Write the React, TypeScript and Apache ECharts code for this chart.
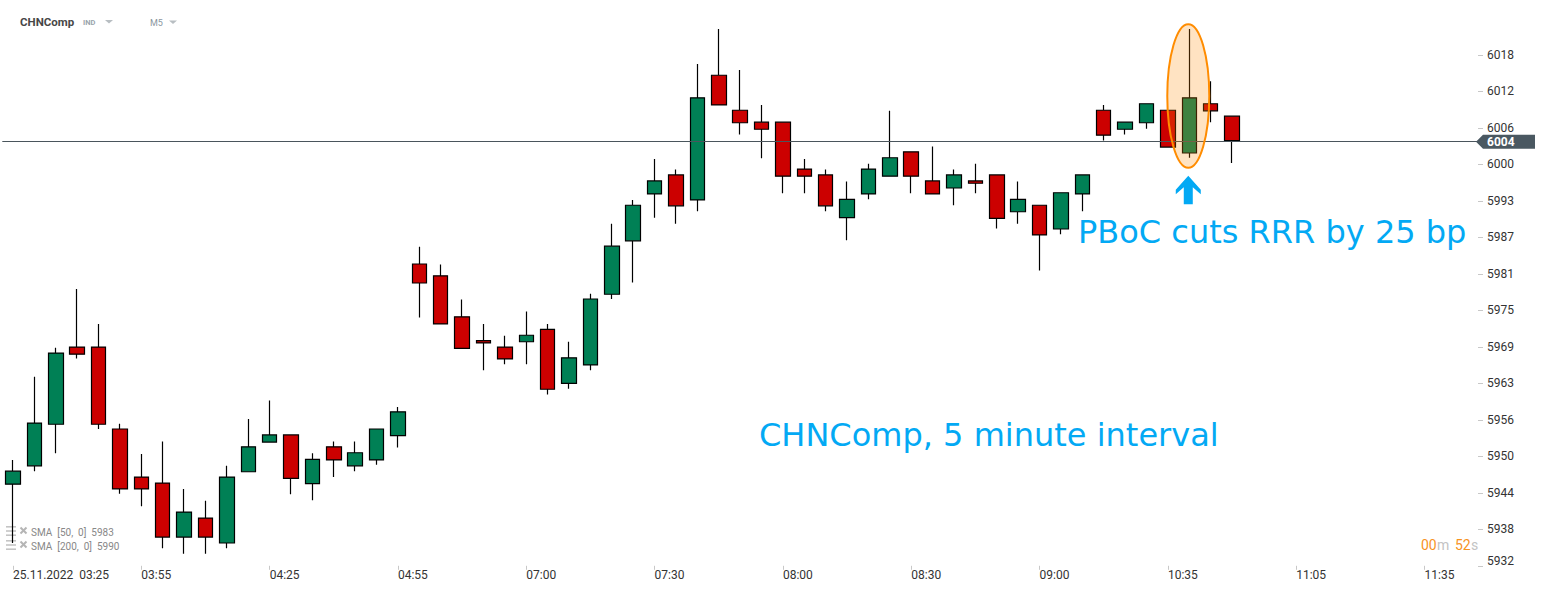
import React, { useEffect, useRef } from 'react';
import * as echarts from 'echarts';

// ---- data ----
const xTickLabels = ['25.11.2022  03:25', '03:55', '04:25', '04:55', '07:00', '07:30', '08:00', '08:30', '09:00', '10:35', '11:05', '11:35'];
const categoryCount = 69;
const yTickLabels = ['5932', '5938', '5944', '5950', '5956', '5963', '5969', '5975', '5981', '5987', '5993', '6000', '6006', '6012', '6018'];

const opens = [5945.6, 5948.7, 5955.7, 5968.7, 5968.7, 5954.9, 5946.8, 5945.8, 5936.7, 5939.9, 5935.7, 5947.7, 5952.7, 5953.9, 5945.7, 5951.9, 5948.7, 5949.7, 5953.8,
  5982.7, 5980.7, 5973.8, 5969.8, 5968.7, 5969.6, 5971.7, 5962.6, 5965.7, 5977.6, 5986.6, 5994.5, 5997.7, 5993.5, 6014.5, 6008.6, 6006.6, 6006.6, 5998.7,
  5997.7, 5990.5, 5994.5, 5997.5, 6001.6, 5996.7, 5995.5, 5996.7, 5997.7, 5991.5, 5992.6, 5988.6, 5994.5, 6008.6, 6005.4, 6006.5, 6008.6, 6001.4, 6009.7, 6007.6];
const closes = [5947.8, 5955.9, 5967.7, 5967.5, 5955.7, 5944.8, 5944.8, 5936.7, 5940.9, 5936.7, 5946.8, 5951.9, 5953.9, 5946.6, 5949.8, 5949.7, 5950.9, 5954.9, 5957.8,
  5979.5, 5972.6, 5968.5, 5969.4, 5966.7, 5970.7, 5961.6, 5966.9, 5976.8, 5985.7, 5992.6, 5996.7, 5992.5, 6010.7, 6009.5, 6006.5, 6005.4, 5997.5, 5997.5,
  5992.5, 5993.6, 5998.7, 6000.6, 5997.5, 5994.5, 5997.7, 5996.3, 5990.4, 5993.6, 5987.6, 5994.7, 5997.7, 6004.4, 6006.6, 6009.7, 6002.4, 6010.7, 6008.5, 6003.5];
const lows = [5935.7, 5947.8, 5950.8, 5966.8, 5954.9, 5944.0, 5941.9, 5934.8, 5933.9, 5933.9, 5934.8, 5947.6, 5952.7, 5943.9, 5942.9, 5946.8, 5947.8, 5948.9, 5951.8,
  5973.7, 5972.6, 5968.5, 5964.8, 5965.8, 5965.8, 5960.7, 5961.7, 5964.8, 5976.8, 5979.6, 5990.5, 5989.5, 5991.6, 6009.5, 6004.5, 6000.5, 5994.6, 5994.6,
  5991.6, 5986.7, 5993.6, 5997.5, 5994.6, 5994.5, 5992.6, 5994.6, 5988.7, 5989.5, 5981.6, 5987.7, 5991.6, 6003.5, 6004.5, 6005.5, 6002.4, 6000.6, 6006.6, 5999.7];
const highs = [5949.7, 5963.7, 5968.6, 5978.5, 5972.6, 5955.8, 5950.7, 5952.8, 5944.8, 5942.8, 5948.7, 5956.6, 5959.7, 5954.0, 5950.8, 5952.8, 5952.8, 5955.0, 5958.6,
  5985.6, 5982.6, 5976.7, 5972.6, 5970.6, 5974.7, 5972.6, 5969.6, 5977.7, 5989.5, 5993.5, 6000.4, 5998.6, 6016.4, 6022.3, 6015.4, 6009.5, 6006.7, 6000.4,
  5998.6, 5996.6, 5999.6, 6008.5, 6001.7, 6002.5, 5998.6, 5999.6, 5997.8, 5996.6, 5992.7, 5994.8, 5997.8, 6009.5, 6006.7, 6009.8, 6008.7, 6022.3, 6013.5, 6007.7];

const currentPrice = 6003.3;
const currentPriceLabel = '6004';
const smaLegend = ['SMA  [50,  0]  5983', 'SMA  [200,  0]  5990'];
const eventIndex = 55;
const eventTop = 6023.1;
const eventBottom = 5998.9;

// axis scale
const yStep = 6.147;
const yMin = 5931.855; // 965 * yStep
const yMax = 6024.06;

const GRID = { left: 2.3, right: 68, top: 18.5, bottom: 24.2 };
const W = 1546;
const H = 590;

const GREEN = '#008055';
const RED = '#cc0000';
const BLUE = '#03a9f4';

export default function App() {
  const ref = useRef<HTMLDivElement>(null);
  useEffect(() => {
    if (!ref.current) return;
    const chart = echarts.init(ref.current, null, { renderer: 'svg' });
    const categories = Array.from({ length: categoryCount }, (_, i) => String(i));
    const candles = opens.map((o, i) => [o, closes[i], lows[i], highs[i]]);

    chart.setOption({
      animation: false,
      grid: { ...GRID, containLabel: false },
      xAxis: {
        type: 'category',
        data: categories,
        boundaryGap: true,
        axisLine: { show: false },
        axisTick: { show: true, alignWithLabel: true, interval: 5, length: 4, lineStyle: { color: '#c8c8c8' } },
        axisLabel: {
          interval: 5,
          align: 'left',
          margin: 3,
          color: '#333',
          fontSize: 12,
          fontFamily: 'Roboto',
          formatter: (_v: string, i: number) => (i % 6 === 0 ? xTickLabels[i / 6] ?? '' : ''),
        },
        splitLine: { show: false },
      },
      yAxis: {
        type: 'value',
        position: 'right',
        min: yMin,
        max: yMax,
        interval: yStep,
        axisLine: { show: false },
        splitLine: { show: false },
        axisTick: { show: true, length: 5, lineStyle: { color: '#c8c8c8' } },
        axisLabel: {
          margin: 9,
          color: '#333',
          fontSize: 12,
          fontFamily: 'Roboto',
          formatter: (v: number) => {
            const k = Math.round((v - yMin) / yStep);
            const t = yTickLabels[k];
            if (t === undefined) return '';
            return k === 0 ? `{low|${t}}` : t;
          },
          rich: {
            low: { fontSize: 12, color: '#333', fontFamily: 'Roboto', padding: [0, 0, 10, 0] },
          },
        },
      },
      series: [
        {
          type: 'candlestick',
          data: candles,
          barWidth: 15,
          itemStyle: {
            color: GREEN,
            color0: RED,
            borderColor: '#000',
            borderColor0: '#000',
            borderWidth: 1.2,
          },
          markLine: {
            silent: true,
            symbol: ['none', 'none'],
            label: { show: false },
            lineStyle: { color: '#4a555c', width: 1, type: 'solid' },
            data: [{ yAxis: currentPrice }],
          },
        },
      ],
    });

    const finder = { gridIndex: 0 };
    const py = chart.convertToPixel({ yAxisIndex: 0 }, currentPrice) as number;
    const [ex, eTopY] = chart.convertToPixel(finder, [eventIndex, eventTop]) as number[];
    const eBotY = (chart.convertToPixel(finder, [eventIndex, eventBottom]) as number[])[1];
    const ecy = (eTopY + eBotY) / 2;
    const ery = (eBotY - eTopY) / 2;
    const ax = ex - 1;
    const ay = eBotY + 8;
    const rightX = W - GRID.right;

    const graphic: any[] = [
      // mask the tick at the very top of the value axis (no label there)
      { type: 'rect', z: 50, shape: { x: rightX - 1, y: GRID.top - 3, width: 10, height: 6 }, style: { fill: '#fff' } },
      // header
      { type: 'text', x: 20, y: 22, style: { text: 'CHNComp', fill: '#474747', font: 'bold 11.5px Roboto', textVerticalAlign: 'middle' } },
      { type: 'text', x: 83, y: 22, style: { text: 'IND', fill: '#9aa4ab', font: 'bold 7.5px Roboto', textVerticalAlign: 'middle' } },
      { type: 'polygon', shape: { points: [[105, 20], [113, 20], [109, 23.5]] }, style: { fill: '#b8bec2' } },
      { type: 'text', x: 150, y: 22.5, style: { text: 'M5', fill: '#8a96a0', font: '9px Roboto', textVerticalAlign: 'middle' } },
      { type: 'polygon', shape: { points: [[169, 20.5], [177, 20.5], [173, 24]] }, style: { fill: '#b8bec2' } },
      // SMA legend
      ...smaLegend.flatMap((t, i) => {
        const y = 532 + i * 14;
        return [
          { type: 'rect', shape: { x: 6, y: y - 6, width: 10, height: 1.6 }, style: { fill: '#c4c4c4' } },
          { type: 'rect', shape: { x: 6, y: y - 1.8, width: 10, height: 1.6 }, style: { fill: '#c4c4c4' } },
          { type: 'rect', shape: { x: 6, y: y + 2.4, width: 10, height: 1.6 }, style: { fill: '#c4c4c4' } },
          { type: 'line', shape: { x1: 20.5, y1: y - 4.5, x2: 26.5, y2: y + 1.5 }, style: { stroke: '#b5b5b5', lineWidth: 2 } },
          { type: 'line', shape: { x1: 26.5, y1: y - 4.5, x2: 20.5, y2: y + 1.5 }, style: { stroke: '#b5b5b5', lineWidth: 2 } },
          { type: 'text', x: 31, y, style: { text: t, fill: '#888', font: '10px Roboto', textVerticalAlign: 'middle' } },
        ];
      }),
      // timer
      { type: 'text', x: 1421, y: 545, style: { text: '00', fill: '#f7931e', font: '14px Roboto', textVerticalAlign: 'middle' } },
      { type: 'text', x: 1437, y: 545, style: { text: 'm', fill: '#c3c3c3', font: '14px Roboto', textVerticalAlign: 'middle' } },
      { type: 'text', x: 1455, y: 545, style: { text: '52', fill: '#f7931e', font: '14px Roboto', textVerticalAlign: 'middle' } },
      { type: 'text', x: 1471, y: 545, style: { text: 's', fill: '#c3c3c3', font: '14px Roboto', textVerticalAlign: 'middle' } },
      // price tag
      {
        type: 'polygon',
        z: 20,
        shape: { points: [[rightX - 2, py], [rightX + 5, py - 7], [1535, py - 7], [1535, py + 7], [rightX + 5, py + 7]] },
        style: { fill: '#4a5861' },
      },
      { type: 'text', z: 21, x: 1487, y: py, style: { text: currentPriceLabel, fill: '#fff', font: 'bold 12px Roboto', textVerticalAlign: 'middle' } },
      // event highlight
      {
        type: 'ellipse',
        z: 30,
        shape: { cx: ex - 1, cy: ecy, rx: 21, ry: ery },
        style: { fill: 'rgba(255,140,0,0.24)', stroke: '#ff8c00', lineWidth: 2 },
      },
      {
        type: 'polygon',
        z: 30,
        shape: {
          points: [
            [ax, ay], [ax + 12.5, ay + 14], [ax + 12.5, ay + 18.5], [ax + 4.5, ay + 11.5], [ax + 4.5, ay + 28.5],
            [ax - 4.5, ay + 28.5], [ax - 4.5, ay + 11.5], [ax - 12.5, ay + 18.5], [ax - 12.5, ay + 14],
          ],
        },
        style: { fill: BLUE },
      },
      { type: 'text', z: 30, x: 1078, y: 232, style: { text: 'PBoC cuts RRR by 25 bp', fill: BLUE, font: '32px "DejaVu Sans"', textVerticalAlign: 'middle' } },
      { type: 'text', z: 30, x: 759, y: 435, style: { text: 'CHNComp, 5 minute interval', fill: BLUE, font: '32px "DejaVu Sans"', textVerticalAlign: 'middle' } },
    ];
    chart.setOption({ graphic });

    return () => chart.dispose();
  }, []);

  return <div ref={ref} style={{ position: 'fixed', left: 0, top: 0, width: W, height: H, background: '#fff' }} />;
}
